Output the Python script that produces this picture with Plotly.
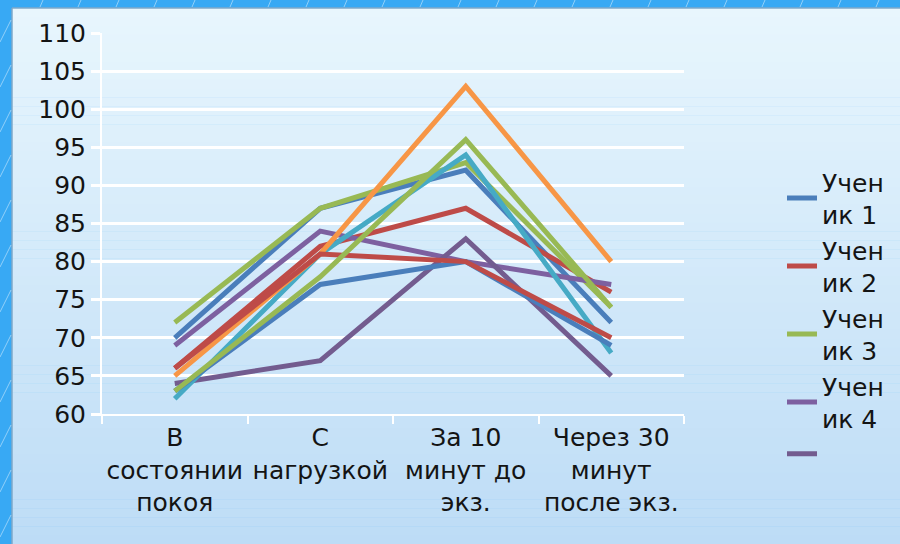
import plotly.graph_objects as go

categories = ["В<br>состоянии<br>покоя", "С<br>нагрузкой", "За 10<br>минут до<br>экз.", "Через 30<br>минут<br>после экз."]
y_ticks = [60, 65, 70, 75, 80, 85, 90, 95, 100, 105, 110]

s1 = [70, 87, 92, 72]
s2 = [66, 82, 87, 76]
s3 = [72, 87, 93, 74]
s4 = [69, 84, 80, 77]
s5 = [64, 67, 83, 65]
s6 = [62, 81, 94, 68]
s7 = [65, 81, 103, 80]
s8 = [63, 77, 80, 69]
s9 = [66, 81, 80, 70]
s10 = [63, 78, 96, 74]

series = [s1, s2, s3, s4, s5, s6, s7, s8, s9, s10]
legend_names = ["Учен<br>ик 1", "Учен<br>ик 2", "Учен<br>ик 3", "Учен<br>ик 4", ""]
colors = ["#4A7EBB", "#BE4B48", "#98B954", "#7D60A0", "#735C8F", "#46AAC5",
          "#F79646", "#4A7EBB", "#BE4B48", "#98B954"]

FONT = "DejaVu Sans, Verdana, sans-serif"
FS = 25
W, H = 900, 544
L, R, T, B = 102, 216, 33, 130
pw, ph = W - L - R, H - T - B

def px_x(x):
    return (x - L) / pw

def px_y(y):
    return (H - B - y) / ph

fig = go.Figure()
for i, vals in enumerate(series):
    fig.add_trace(go.Scatter(
        x=categories, y=vals, mode="lines",
        name=legend_names[i] if i < len(legend_names) else f"Ученик {i+1}",
        showlegend=i < len(legend_names),
        line=dict(color=colors[i], width=5),
    ))

shapes = []
# gradient panel
top_c = (0xE8, 0xF6, 0xFD)
bot_c = (0xBD, 0xDC, 0xF6)
n = 60
y_top, y_bot = 8, H
for k in range(n):
    y0 = y_top + (y_bot - y_top) * k / n
    y1 = y_top + (y_bot - y_top) * (k + 1) / n + 0.5
    t = (k + 0.5) / n
    c = tuple(int(round(top_c[j] + (bot_c[j] - top_c[j]) * t)) for j in range(3))
    shapes.append(dict(type="rect", xref="paper", yref="paper", layer="below",
                       x0=px_x(12), x1=px_x(W + 2), y0=px_y(y0), y1=px_y(min(y1, H + 2)),
                       fillcolor="rgb(%d,%d,%d)" % c, line=dict(width=0)))
# panel border
shapes.append(dict(type="line", xref="paper", yref="paper", layer="below",
                   x0=px_x(12), x1=px_x(12), y0=px_y(8), y1=px_y(H),
                   line=dict(color="#7FA9C8", width=1.5)))
shapes.append(dict(type="line", xref="paper", yref="paper", layer="below",
                   x0=px_x(12), x1=px_x(W), y0=px_y(8), y1=px_y(8),
                   line=dict(color="#7FA9C8", width=1.5)))
# streaks on the blue frame
for xs in range(40, 900, 38):
    shapes.append(dict(type="line", xref="paper", yref="paper", layer="below",
                       x0=px_x(xs), x1=px_x(xs + 3), y0=px_y(7), y1=px_y(0),
                       line=dict(color="rgba(255,255,255,0.45)", width=1)))
for ys in range(20, 544, 45):
    shapes.append(dict(type="line", xref="paper", yref="paper", layer="below",
                       x0=px_x(0), x1=px_x(11), y0=px_y(ys + 22), y1=px_y(ys),
                       line=dict(color="rgba(255,255,255,0.45)", width=1)))

fig.update_layout(
    width=W, height=H,
    margin=dict(l=L, r=R, t=T, b=B, autoexpand=False),
    paper_bgcolor="#38A9F4",
    plot_bgcolor="rgba(0,0,0,0)",
    font=dict(family=FONT, size=FS, color="#141414"),
    shapes=shapes,
    showlegend=True,
    legend=dict(x=px_x(782), y=px_y(159), xanchor="left", yanchor="top",
                bgcolor="rgba(0,0,0,0)", itemwidth=30,
                font=dict(family=FONT, size=FS, color="#141414"),
                tracegroupgap=0),
    xaxis=dict(
        type="category", range=[-0.5, 3.5],
        showgrid=False, showline=True, linecolor="white", linewidth=2,
        ticks="outside", tickson="boundaries", ticklen=8, tickcolor="white", tickwidth=2,
        tickfont=dict(family=FONT, size=FS, color="#141414"),
        tickangle=0, automargin=False,
        zeroline=False, fixedrange=True,
    ),
    yaxis=dict(
        range=[60, 110], tickvals=y_ticks,
        showgrid=True, gridcolor="white", gridwidth=2.5,
        showline=True, linecolor="white", linewidth=2,
        ticks="outside", ticklen=9, tickcolor="white", tickwidth=2.5,
        tickfont=dict(family=FONT, size=FS, color="#141414"),
        automargin=False,
        zeroline=False, fixedrange=True,
    ),
)

fig.write_html("out.html", config={"displayModeBar": False},
               post_script="document.body.style.margin='0';document.body.style.overflow='hidden';")
